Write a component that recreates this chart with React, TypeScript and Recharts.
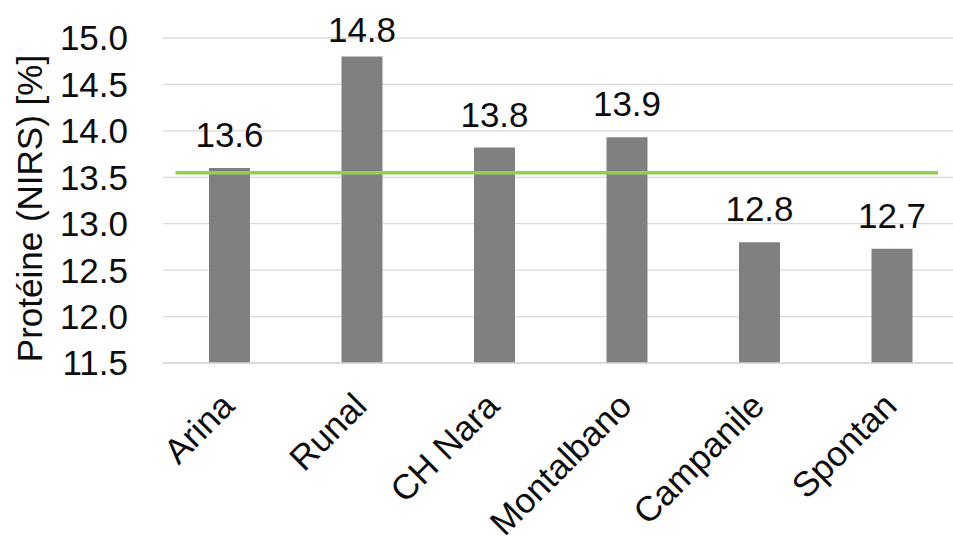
import { BarChart, Bar, XAxis, YAxis, CartesianGrid, ReferenceLine, LabelList, Label } from 'recharts'

const varieties = ['Arina', 'Runal', 'CH Nara', 'Montalbano', 'Campanile', 'Spontan']
const protein = [13.6, 14.8, 13.82, 13.93, 12.8, 12.73]
const proteinLabels = ['13.6', '14.8', '13.8', '13.9', '12.8', '12.7']
const average = 13.55
const yTicks = [11.5, 12.0, 12.5, 13.0, 13.5, 14.0, 14.5, 15.0]

const FONT = '"Liberation Sans", Arial, sans-serif'
const TEXT = '#0d0d0d'

const data = varieties.map((name, i) => ({ name, value: protein[i], label: proteinLabels[i] }))

function RotatedTick({ x, y, payload }: { x?: number; y?: number; payload?: { value: string } }) {
  return (
    <g transform={`translate(${(x ?? 0) + 7},${(y ?? 0) + 45})`}>
      <text textAnchor="end" transform="rotate(-45)" fontSize={35} fontFamily={FONT} fill={TEXT}>
        {payload?.value}
      </text>
    </g>
  )
}

function ValueLabel(props: any) {
  const { x, y, width, index } = props
  // Excel keeps the top label inside the chart area
  const baseline = Math.max(y - 21, 42)
  return (
    <text x={x + width / 2} y={baseline} textAnchor="middle" fontSize={35} fontFamily={FONT} fill={TEXT}>
      {proteinLabels[index]}
    </text>
  )
}

function AxisTitle(props: any) {
  const vb = props.viewBox
  const cy = vb.y + vb.height / 2 + 8
  return (
    <text
      transform={`translate(42,${cy}) rotate(-90)`}
      textAnchor="middle"
      fontSize={35}
      fontFamily={FONT}
      fill={TEXT}
    >
      Protéine (NIRS) [%]
    </text>
  )
}

function AverageLine(props: any) {
  const { x1, x2, y1, y2 } = props
  return <line x1={x1 + 12.5} x2={x2 - 20} y1={y1} y2={y2} stroke="#92d050" strokeWidth={3.5} />
}

export default function App() {
  return (
    <div style={{ position: 'fixed', left: 0, top: 0, width: 953, height: 544, overflow: 'hidden', background: '#fff' }}>
      <BarChart width={966} height={544} data={data} margin={{ top: 38, right: 8, left: 0, bottom: 0 }}>
        <CartesianGrid vertical={false} stroke="#d9d9d9" strokeWidth={1.3} />
        <XAxis
          dataKey="name"
          height={181}
          axisLine={{ stroke: '#d9d9d9', strokeWidth: 1.3 }}
          tickLine={false}
          tickSize={0}
          tickMargin={0}
          interval={0}
          tick={<RotatedTick />}
        />
        <YAxis
          width={163}
          domain={[11.5, 15]}
          ticks={yTicks}
          tickFormatter={(v: number) => v.toFixed(1)}
          axisLine={false}
          tickLine={false}
          tickSize={0}
          tickMargin={35}
          tick={{ fontSize: 35, fontFamily: FONT, fill: TEXT }}
        >
          <Label content={<AxisTitle />} />
        </YAxis>
        <Bar dataKey="value" fill="#808080" barSize={41} isAnimationActive={false}>
          <LabelList dataKey="label" content={<ValueLabel />} />
        </Bar>
        <ReferenceLine y={average} shape={<AverageLine />} />
      </BarChart>
    </div>
  )
}
